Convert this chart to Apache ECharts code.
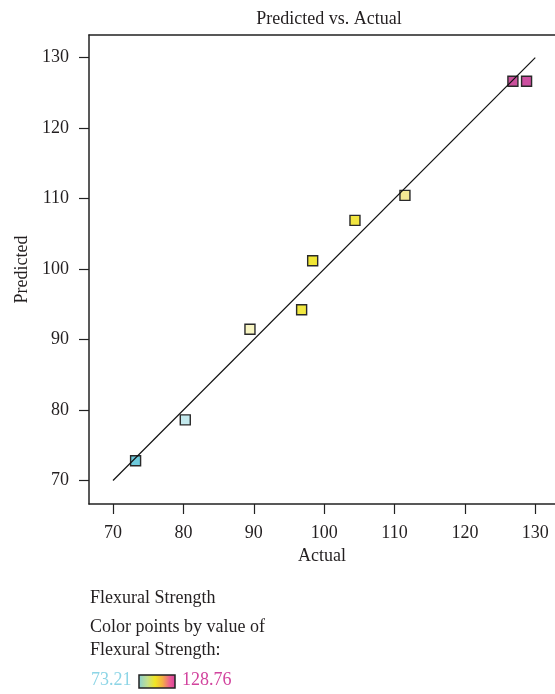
<!DOCTYPE html>
<html>
<head>
<meta charset="utf-8">
<script src="https://cdn.jsdelivr.net/npm/echarts@6/dist/echarts.min.js"></script>
<style>html,body{margin:0;padding:0;background:#fff}#c{width:555px;height:694px}</style>
</head>
<body>
<div id="c"></div>
<script>
const actual = [73.21, 80.27, 89.46, 96.80, 98.37, 104.38, 111.48, 126.82, 128.76];
const predicted = [72.79, 78.60, 91.45, 94.23, 101.17, 106.90, 110.44, 126.64, 126.64];
const tickValues = [70, 80, 90, 100, 110, 120, 130];
const diagonal = [70, 130];
const colorMin = 73.21;
const colorMax = 128.76;

const FONT = '"Liberation Serif", "DejaVu Serif", serif';
const TXT = '#231f20';

const chart = echarts.init(document.getElementById('c'), null, {renderer: 'canvas'});
const points = actual.map((a, i) => [a, predicted[i]]);
const X_MIN = 66.59, X_MAX = 132.80;

chart.setOption({
  animation: false,
  backgroundColor: '#fff',
  title: {
    text: 'Predicted vs. Actual',
    left: 324, top: 5, textAlign: 'center',
    textStyle: {fontFamily: FONT, fontSize: 18, fontWeight: 'normal', color: TXT}
  },
  grid: {left: 89, top: 35, right: 0, bottom: 190, show: false},
  xAxis: [{
    type: 'value', min: X_MIN, max: X_MAX, position: 'bottom',
    name: 'Actual', nameLocation: 'middle', nameGap: 43,
    nameTextStyle: {fontFamily: FONT, fontSize: 18, color: TXT},
    splitLine: {show: false},
    axisLine: {show: true, onZero: false, lineStyle: {color: '#222', width: 1.5}},
    axisTick: {show: true, length: 10, customValues: tickValues, lineStyle: {color: '#222', width: 1.2}},
    axisLabel: {customValues: tickValues, margin: 20, fontFamily: FONT, fontSize: 18, color: TXT}
  }, {
    type: 'value', min: X_MIN, max: X_MAX, position: 'top',
    splitLine: {show: false},
    axisLine: {show: true, onZero: false, lineStyle: {color: '#222', width: 1.5}},
    axisTick: {show: false}, axisLabel: {show: false}
  }],
  yAxis: {
    type: 'value', min: 66.66, max: 133.2,
    name: 'Predicted', nameLocation: 'middle', nameGap: 58, nameRotate: 90,
    nameTextStyle: {fontFamily: FONT, fontSize: 18, color: TXT},
    splitLine: {show: false},
    axisLine: {show: true, onZero: false, lineStyle: {color: '#222', width: 1.5}},
    axisTick: {show: true, length: 10, customValues: tickValues, lineStyle: {color: '#222', width: 1.2}},
    axisLabel: {customValues: tickValues, margin: 20, fontFamily: FONT, fontSize: 18, color: TXT}
  },
  visualMap: {
    show: false, type: 'continuous', seriesIndex: 0, dimension: 0,
    min: colorMin, max: colorMax,
    inRange: {color: ['#6ecbdd','#91d8e6','#b5e5ee','#cfeded','#def0e0','#eef3d3','#faf5bf','#f6ef87','#f2e94e','#f0e634','#f1e536','#f1e439','#f3e757','#f5eb7c','#f4e899','#ecc999','#e4ab99','#db8d9a','#d36e9a','#cb509a','#cc4fa0']}
  },
  series: [
    {
      type: 'scatter', symbol: 'rect', symbolSize: 10, z: 2, xAxisIndex: 0,
      itemStyle: {borderColor: '#2a2a2a', borderWidth: 1.4, opacity: 1},
      data: points
    },
    {
      type: 'line', z: 3, symbol: 'none', silent: true, xAxisIndex: 0,
      lineStyle: {color: '#111', width: 1.2},
      data: [[diagonal[0], diagonal[0]], [diagonal[1], diagonal[1]]]
    }
  ],
  graphic: [
    {type: 'text', left: 90, top: 589, style: {text: 'Flexural Strength', font: '18px ' + FONT, fill: TXT}},
    {type: 'text', left: 90, top: 618, style: {text: 'Color points by value of', font: '18px ' + FONT, fill: TXT}},
    {type: 'text', left: 90, top: 641, style: {text: 'Flexural Strength:', font: '18px ' + FONT, fill: TXT}},
    {type: 'text', left: 91, top: 671, style: {text: String(colorMin), font: '18px ' + FONT, fill: '#8dd5e6'}},
    {type: 'rect', shape: {x: 139, y: 675, width: 36, height: 13},
      style: {stroke: '#222', lineWidth: 1.5,
        fill: new echarts.graphic.LinearGradient(0, 0, 1, 0, [
          {offset: 0, color: '#86cfd6'},
          {offset: 0.25, color: '#c5e08a'},
          {offset: 0.45, color: '#f0e622'},
          {offset: 0.65, color: '#f4ae45'},
          {offset: 0.85, color: '#ec5a94'},
          {offset: 1, color: '#d6409e'}
        ])}},
    {type: 'text', left: 182, top: 671, style: {text: String(colorMax), font: '18px ' + FONT, fill: '#d2449e'}}
  ]
});
</script>
</body>
</html>
